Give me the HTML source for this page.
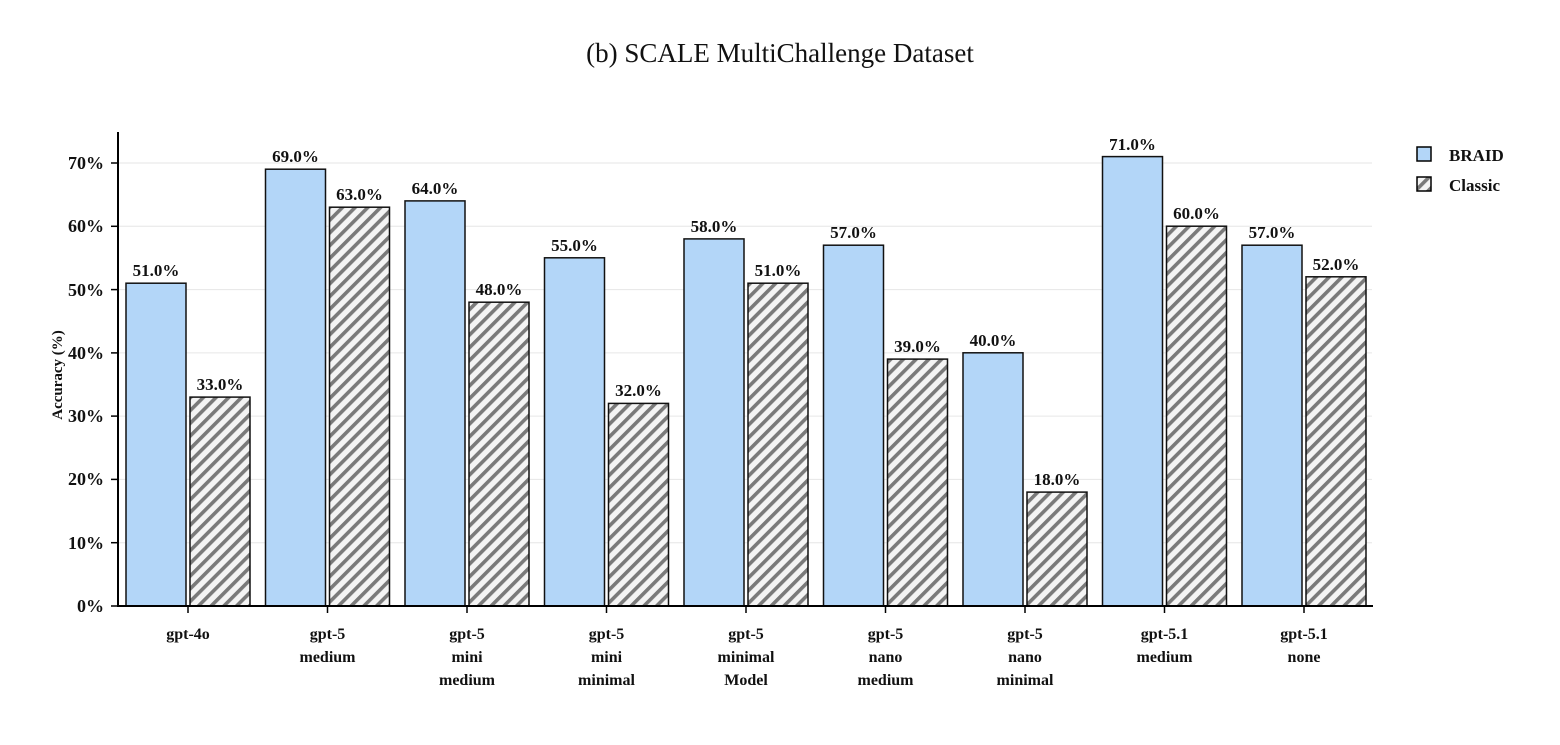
<!DOCTYPE html>
<html><head><meta charset="utf-8"><style>
html,body{margin:0;padding:0;background:#fff;}
svg text{font-family:"Liberation Serif",serif;}
</style></head><body>
<svg width="1560" height="740" xmlns="http://www.w3.org/2000/svg">
<defs>
<pattern id="h" patternUnits="userSpaceOnUse" width="9" height="9" patternTransform="rotate(45)">
<rect width="9" height="9" fill="#f4f4f4"/>
<rect x="0" y="0" width="3.6" height="9" fill="#7a7a7a"/>
</pattern>
</defs>
<text x="780" y="62" font-size="27" text-anchor="middle" fill="#111">(b) SCALE MultiChallenge Dataset</text>
<g stroke="#e6e6e6" stroke-width="1">
<line x1="119" x2="1372" y1="542.7" y2="542.7"/><line x1="119" x2="1372" y1="479.4" y2="479.4"/>
<line x1="119" x2="1372" y1="416.1" y2="416.1"/><line x1="119" x2="1372" y1="352.9" y2="352.9"/>
<line x1="119" x2="1372" y1="289.6" y2="289.6"/><line x1="119" x2="1372" y1="226.3" y2="226.3"/>
<line x1="119" x2="1372" y1="163" y2="163"/>
</g>
<g font-size="18" font-weight="bold" text-anchor="end" fill="#111">
<text x="104" y="612">0%</text><text x="104" y="549">10%</text><text x="104" y="485">20%</text>
<text x="104" y="422">30%</text><text x="104" y="359">40%</text><text x="104" y="296">50%</text>
<text x="104" y="232">60%</text><text x="104" y="169">70%</text>
</g>
<g stroke="#000" stroke-width="1.5">
<line x1="111" x2="118" y1="606" y2="606"/><line x1="111" x2="118" y1="542.7" y2="542.7"/>
<line x1="111" x2="118" y1="479.4" y2="479.4"/><line x1="111" x2="118" y1="416.1" y2="416.1"/>
<line x1="111" x2="118" y1="352.9" y2="352.9"/><line x1="111" x2="118" y1="289.6" y2="289.6"/>
<line x1="111" x2="118" y1="226.3" y2="226.3"/><line x1="111" x2="118" y1="163" y2="163"/>
</g>
<text transform="translate(62,375) rotate(-90)" font-size="15" font-weight="bold" text-anchor="middle" fill="#111">Accuracy (%)</text>

<g stroke="#111" stroke-width="1.5">
<rect x="126" y="283.2" width="60" height="322.8" fill="#b3d6f8"/>
<rect x="190" y="397.1" width="60" height="208.9" fill="url(#h)"/>
<rect x="265.5" y="169.2" width="60" height="436.8" fill="#b3d6f8"/>
<rect x="329.5" y="207.2" width="60" height="398.8" fill="url(#h)"/>
<rect x="405" y="200.9" width="60" height="405.1" fill="#b3d6f8"/>
<rect x="469" y="302.2" width="60" height="303.8" fill="url(#h)"/>
<rect x="544.5" y="257.8" width="60" height="348.2" fill="#b3d6f8"/>
<rect x="608.5" y="403.4" width="60" height="202.6" fill="url(#h)"/>
<rect x="684" y="238.9" width="60" height="367.1" fill="#b3d6f8"/>
<rect x="748" y="283.2" width="60" height="322.8" fill="url(#h)"/>
<rect x="823.5" y="245.2" width="60" height="360.8" fill="#b3d6f8"/>
<rect x="887.5" y="359.1" width="60" height="246.9" fill="url(#h)"/>
<rect x="963" y="352.8" width="60" height="253.2" fill="#b3d6f8"/>
<rect x="1027" y="492.1" width="60" height="113.9" fill="url(#h)"/>
<rect x="1102.5" y="156.6" width="60" height="449.4" fill="#b3d6f8"/>
<rect x="1166.5" y="226.2" width="60" height="379.8" fill="url(#h)"/>
<rect x="1242" y="245.2" width="60" height="360.8" fill="#b3d6f8"/>
<rect x="1306" y="276.8" width="60" height="329.2" fill="url(#h)"/>
</g>
<g font-size="17" font-weight="bold" text-anchor="middle" fill="#111">
<text x="156" y="276">51.0%</text><text x="220" y="390">33.0%</text>
<text x="295.5" y="162">69.0%</text><text x="359.5" y="200">63.0%</text>
<text x="435" y="194">64.0%</text><text x="499" y="295">48.0%</text>
<text x="574.5" y="251">55.0%</text><text x="638.5" y="396">32.0%</text>
<text x="714" y="232">58.0%</text><text x="778" y="276">51.0%</text>
<text x="853.5" y="238">57.0%</text><text x="917.5" y="352">39.0%</text>
<text x="993" y="346">40.0%</text><text x="1057" y="485">18.0%</text>
<text x="1132.5" y="150">71.0%</text><text x="1196.5" y="219">60.0%</text>
<text x="1272" y="238">57.0%</text><text x="1336" y="270">52.0%</text>
</g>
<g stroke="#000" stroke-width="1.5">
<line x1="188" x2="188" y1="606" y2="613"/><line x1="327.5" x2="327.5" y1="606" y2="613"/>
<line x1="467" x2="467" y1="606" y2="613"/><line x1="606.5" x2="606.5" y1="606" y2="613"/>
<line x1="746" x2="746" y1="606" y2="613"/><line x1="885.5" x2="885.5" y1="606" y2="613"/>
<line x1="1025" x2="1025" y1="606" y2="613"/><line x1="1164.5" x2="1164.5" y1="606" y2="613"/>
<line x1="1304" x2="1304" y1="606" y2="613"/>
</g>
<g font-size="16" font-weight="bold" text-anchor="middle" fill="#111">
<text x="188" y="639">gpt-4o</text>
<text x="327.5" y="639">gpt-5</text><text x="327.5" y="662">medium</text>
<text x="467" y="639">gpt-5</text><text x="467" y="662">mini</text><text x="467" y="685">medium</text>
<text x="606.5" y="639">gpt-5</text><text x="606.5" y="662">mini</text><text x="606.5" y="685">minimal</text>
<text x="746" y="639">gpt-5</text><text x="746" y="662">minimal</text><text x="746" y="685">Model</text>
<text x="885.5" y="639">gpt-5</text><text x="885.5" y="662">nano</text><text x="885.5" y="685">medium</text>
<text x="1025" y="639">gpt-5</text><text x="1025" y="662">nano</text><text x="1025" y="685">minimal</text>
<text x="1164.5" y="639">gpt-5.1</text><text x="1164.5" y="662">medium</text>
<text x="1304" y="639">gpt-5.1</text><text x="1304" y="662">none</text>
</g>
<line x1="118" y1="132" x2="118" y2="607" stroke="#000" stroke-width="2"/>
<line x1="117" y1="606" x2="1373" y2="606" stroke="#000" stroke-width="2"/>
<g font-size="17" font-weight="bold" fill="#111">
<rect x="1417" y="147" width="14" height="14" fill="#b3d6f8" stroke="#000" stroke-width="1.5"/>
<text x="1449" y="161">BRAID</text>
<rect x="1417" y="177" width="14" height="14" fill="url(#h)" stroke="#000" stroke-width="1.5"/>
<text x="1449" y="191">Classic</text>
</g>
</svg>
</body></html>
